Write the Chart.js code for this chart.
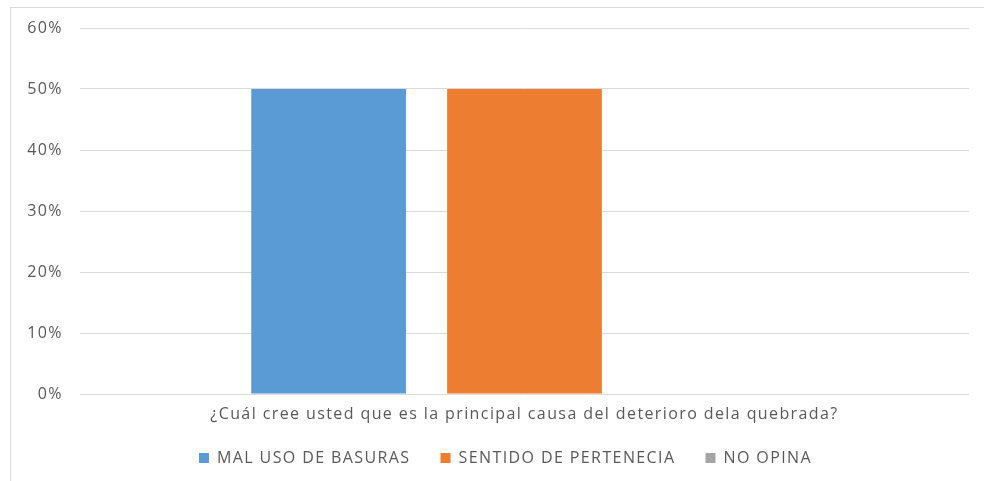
<!DOCTYPE html>
<html><head><meta charset="utf-8">
<script src="https://cdn.jsdelivr.net/npm/chart.js@4/dist/chart.umd.min.js"></script>
<style>
html,body{margin:0;padding:0;background:#fff;overflow:hidden;}
#wrap{position:relative;width:984px;height:481px;}
#frame{position:absolute;left:10px;top:7px;width:1000px;height:500px;border:1px solid #d9d9d9;box-sizing:border-box;}
canvas{position:absolute;left:0;top:0;}
</style></head>
<body>
<div id="wrap"><div id="frame"></div><canvas id="c" width="984" height="481"></canvas></div>
<script>
const categories = ["¿Cuál cree usted que es la principal causa del deterioro dela quebrada?"];
const seriesNames = ["MAL USO DE BASURAS", "SENTIDO DE PERTENECIA", "NO OPINA"];
const malUso = [50];
const sentido = [50];
const noOpina = [0];
const yTicks = [0, 10, 20, 30, 40, 50, 60];
const colors = ["#5B9BD5", "#ED7D31", "#A5A5A5"];
const textColor = "#595959";
const FONT = "'Open Sans', sans-serif";

const spacingPlugin = {
  id: 'spacing',
  beforeLayout(chart) { chart.ctx.letterSpacing = '1.4px'; },
  beforeDraw(chart) { chart.ctx.letterSpacing = '1.4px'; },
  afterLayout(chart) {
    const lg = chart.legend;
    if (lg) { lg.top -= 5; lg.bottom -= 5; lg.left += 11; lg.right += 11; }
  }
};

new Chart(document.getElementById('c'), {
  type: 'bar',
  data: {
    labels: categories,
    datasets: [
      {label: seriesNames[0], data: malUso, backgroundColor: colors[0]},
      {label: seriesNames[1], data: sentido, backgroundColor: colors[1]},
      {label: seriesNames[2], data: noOpina, backgroundColor: colors[2]}
    ]
  },
  plugins: [spacingPlugin],
  options: {
    responsive: false,
    animation: false,
    devicePixelRatio: 1,
    categoryPercentage: 0.661,
    barPercentage: 0.79,
    layout: {padding: {left: 20, right: 15, top: 28, bottom: 0}},
    plugins: {
      tooltip: {enabled: false},
      legend: {
        position: 'bottom',
        labels: {
          boxWidth: 10, boxHeight: 10, padding: 30,
          color: textColor,
          font: {family: FONT, size: 16}
        }
      }
    },
    scales: {
      x: {
        grid: {display: false, drawTicks: false},
        border: {display: false},
        ticks: {color: textColor, padding: 11, font: {family: FONT, size: 16}},
        afterFit: s => { s.height = 31; }
      },
      y: {
        min: yTicks[0], max: yTicks[yTicks.length - 1],
        afterBuildTicks: s => { s.ticks = yTicks.map(v => ({value: v})); },
        grid: {color: '#d9d9d9', lineWidth: 1, drawTicks: false},
        border: {display: false},
        ticks: {color: textColor, padding: 17, font: {family: FONT, size: 16}, callback: v => v + '%'},
        afterFit: s => { s.width = 60; }
      }
    }
  }
});
</script>
</body></html>
